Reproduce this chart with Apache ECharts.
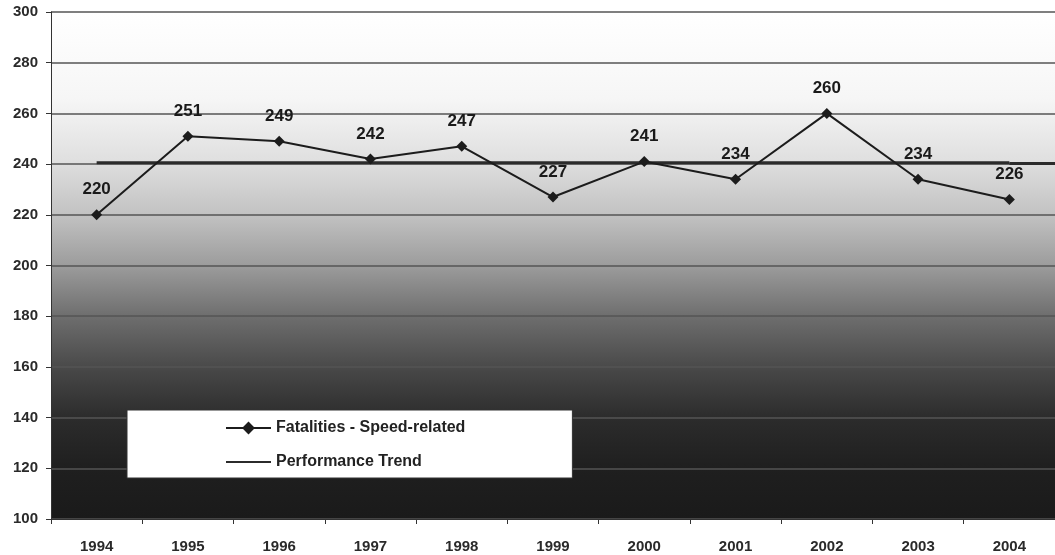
<!DOCTYPE html>
<html>
<head>
<meta charset="utf-8">
<script src="https://cdn.jsdelivr.net/npm/echarts@6/dist/echarts.min.js"></script>
<style>
  html, body { margin: 0; padding: 0; background: #fff; }
  #main { width: 1055px; height: 555px; }
</style>
</head>
<body>
<div id="main"></div>
<script>
// data
const years = ['1994', '1995', '1996', '1997', '1998', '1999', '2000', '2001', '2002', '2003', '2004'];
const fatalities = [220, 251, 249, 242, 247, 227, 241, 234, 260, 234, 226];
const trend = [240.5, 240.5, 240.5, 240.5, 240.5, 240.5, 240.5, 240.5, 240.5, 240.5, 240.5];

const chart = echarts.init(document.getElementById('main'));
const font = '"Liberation Sans", Arial, sans-serif';

chart.setOption({
  animation: false,
  backgroundColor: '#fff',
  grid: {
    left: 51,
    top: 12,
    width: 1012,
    height: 507,
    show: true,
    borderWidth: 0,
    // background fades from white to near black
    backgroundColor: new echarts.graphic.LinearGradient(0, 0, 0, 1, [
      { offset: 0, color: '#ffffff' },
      { offset: 0.17, color: '#f6f6f6' },
      { offset: 0.29, color: '#e0e0e0' },
      { offset: 0.40, color: '#c2c2c2' },
      { offset: 0.50, color: '#9c9c9c' },
      { offset: 0.60, color: '#6e6e6e' },
      { offset: 0.71, color: '#464646' },
      { offset: 0.80, color: '#2c2c2c' },
      { offset: 0.90, color: '#1f1f1f' },
      { offset: 1, color: '#1a1a1a' }
    ])
  },
  legend: {
    orient: 'vertical',
    left: 127,
    top: 410,
    backgroundColor: '#fff',
    borderColor: '#333',
    borderWidth: 1,
    padding: [10, 107, 8, 98],
    itemGap: 18,
    itemWidth: 45,
    itemHeight: 16,
    textStyle: { fontFamily: font, fontWeight: 'bold', fontSize: 16, color: '#222' },
    data: [
      { name: 'Fatalities - Speed-related' },
      { name: 'Performance Trend', itemStyle: { opacity: 0 } }
    ]
  },
  xAxis: {
    type: 'category',
    data: years,
    boundaryGap: true,
    axisLine: { lineStyle: { color: '#333', width: 1 } },
    axisTick: { show: true, length: 5, lineStyle: { color: '#333' } },
    axisLabel: { fontFamily: font, fontWeight: 'bold', fontSize: 15, color: '#2a2a2a', margin: 20 },
    splitLine: { show: false }
  },
  yAxis: {
    type: 'value',
    min: 100,
    max: 300,
    interval: 20,
    axisLine: { show: true, lineStyle: { color: '#333', width: 1 } },
    axisTick: { show: true, length: 5, lineStyle: { color: '#333' } },
    axisLabel: { fontFamily: font, fontWeight: 'bold', fontSize: 15, color: '#2a2a2a', margin: 13 },
    splitLine: { show: true, lineStyle: { color: '#555', width: 1.5 } }
  },
  series: [
    {
      name: 'Performance Trend',
      type: 'line',
      data: trend,
      showSymbol: false,
      lineStyle: { color: '#2b2b2b', width: 3 },
      itemStyle: { color: '#2b2b2b' },
      // the trend runs on past the last year to the edge
      markLine: {
        silent: true,
        symbol: 'none',
        label: { show: false },
        lineStyle: { color: '#2b2b2b', width: 3, type: 'solid' },
        data: [[
          { coord: [years.length - 1, trend[trend.length - 1]] },
          { coord: [years.length - 1, trend[trend.length - 1]], x: '100%' }
        ]]
      },
      z: 2
    },
    {
      name: 'Fatalities - Speed-related',
      type: 'line',
      data: fatalities,
      symbol: 'diamond',
      symbolSize: 11,
      lineStyle: { color: '#1c1c1c', width: 2 },
      itemStyle: { color: '#1c1c1c' },
      label: {
        show: true,
        position: 'top',
        distance: 11,
        fontFamily: font,
        fontWeight: 'bold',
        fontSize: 17,
        color: '#1a1a1a'
      },
      z: 3
    }
  ]
});
</script>
</body>
</html>
